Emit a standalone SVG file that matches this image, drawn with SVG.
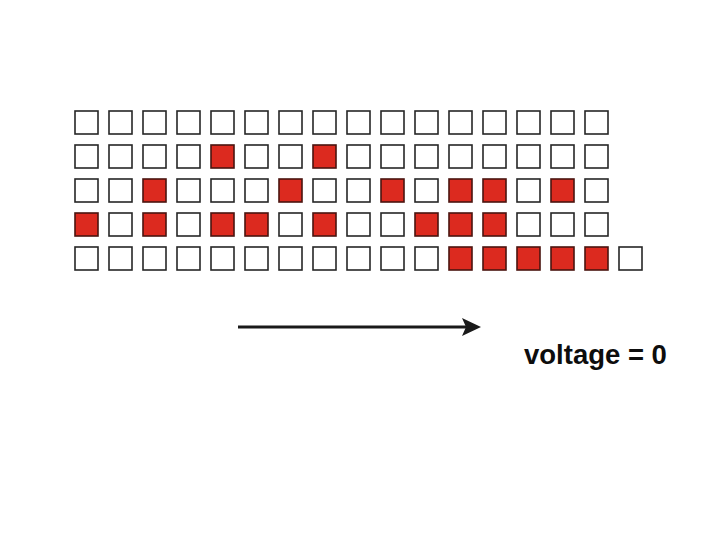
<svg xmlns="http://www.w3.org/2000/svg" width="720" height="540" viewBox="0 0 720 540">
<style>
.c{fill:#ffffff;stroke:#262626;stroke-width:1.6}
.r{fill:#dc2a1f;stroke:#4a1510;stroke-width:1.6}
.t{font-family:"Liberation Sans",Arial,sans-serif;font-weight:bold;font-size:27.5px;fill:#0d0d0d}
</style>
<defs>
<rect id="sq" width="23" height="23"/>
</defs>
<rect width="720" height="540" fill="#ffffff"/>
<g id="grid">
<g id="row0">
<use href="#sq" class="c" x="75" y="111"/><use href="#sq" class="c" x="109" y="111"/><use href="#sq" class="c" x="143" y="111"/><use href="#sq" class="c" x="177" y="111"/><use href="#sq" class="c" x="211" y="111"/><use href="#sq" class="c" x="245" y="111"/><use href="#sq" class="c" x="279" y="111"/><use href="#sq" class="c" x="313" y="111"/><use href="#sq" class="c" x="347" y="111"/><use href="#sq" class="c" x="381" y="111"/><use href="#sq" class="c" x="415" y="111"/><use href="#sq" class="c" x="449" y="111"/><use href="#sq" class="c" x="483" y="111"/><use href="#sq" class="c" x="517" y="111"/><use href="#sq" class="c" x="551" y="111"/><use href="#sq" class="c" x="585" y="111"/>
</g>
<g id="row1">
<use href="#sq" class="c" x="75" y="145"/><use href="#sq" class="c" x="109" y="145"/><use href="#sq" class="c" x="143" y="145"/><use href="#sq" class="c" x="177" y="145"/><use href="#sq" class="r" x="211" y="145"/><use href="#sq" class="c" x="245" y="145"/><use href="#sq" class="c" x="279" y="145"/><use href="#sq" class="r" x="313" y="145"/><use href="#sq" class="c" x="347" y="145"/><use href="#sq" class="c" x="381" y="145"/><use href="#sq" class="c" x="415" y="145"/><use href="#sq" class="c" x="449" y="145"/><use href="#sq" class="c" x="483" y="145"/><use href="#sq" class="c" x="517" y="145"/><use href="#sq" class="c" x="551" y="145"/><use href="#sq" class="c" x="585" y="145"/>
</g>
<g id="row2">
<use href="#sq" class="c" x="75" y="179"/><use href="#sq" class="c" x="109" y="179"/><use href="#sq" class="r" x="143" y="179"/><use href="#sq" class="c" x="177" y="179"/><use href="#sq" class="c" x="211" y="179"/><use href="#sq" class="c" x="245" y="179"/><use href="#sq" class="r" x="279" y="179"/><use href="#sq" class="c" x="313" y="179"/><use href="#sq" class="c" x="347" y="179"/><use href="#sq" class="r" x="381" y="179"/><use href="#sq" class="c" x="415" y="179"/><use href="#sq" class="r" x="449" y="179"/><use href="#sq" class="r" x="483" y="179"/><use href="#sq" class="c" x="517" y="179"/><use href="#sq" class="r" x="551" y="179"/><use href="#sq" class="c" x="585" y="179"/>
</g>
<g id="row3">
<use href="#sq" class="r" x="75" y="213"/><use href="#sq" class="c" x="109" y="213"/><use href="#sq" class="r" x="143" y="213"/><use href="#sq" class="c" x="177" y="213"/><use href="#sq" class="r" x="211" y="213"/><use href="#sq" class="r" x="245" y="213"/><use href="#sq" class="c" x="279" y="213"/><use href="#sq" class="r" x="313" y="213"/><use href="#sq" class="c" x="347" y="213"/><use href="#sq" class="c" x="381" y="213"/><use href="#sq" class="r" x="415" y="213"/><use href="#sq" class="r" x="449" y="213"/><use href="#sq" class="r" x="483" y="213"/><use href="#sq" class="c" x="517" y="213"/><use href="#sq" class="c" x="551" y="213"/><use href="#sq" class="c" x="585" y="213"/>
</g>
<g id="row4">
<use href="#sq" class="c" x="75" y="247"/><use href="#sq" class="c" x="109" y="247"/><use href="#sq" class="c" x="143" y="247"/><use href="#sq" class="c" x="177" y="247"/><use href="#sq" class="c" x="211" y="247"/><use href="#sq" class="c" x="245" y="247"/><use href="#sq" class="c" x="279" y="247"/><use href="#sq" class="c" x="313" y="247"/><use href="#sq" class="c" x="347" y="247"/><use href="#sq" class="c" x="381" y="247"/><use href="#sq" class="c" x="415" y="247"/><use href="#sq" class="r" x="449" y="247"/><use href="#sq" class="r" x="483" y="247"/><use href="#sq" class="r" x="517" y="247"/><use href="#sq" class="r" x="551" y="247"/><use href="#sq" class="r" x="585" y="247"/><use href="#sq" class="c" x="619" y="247"/>
</g>
</g>
<g id="connectors">
<line x1="238" y1="327" x2="466" y2="327" stroke="#1a1a1a" stroke-width="3"/>
<polygon points="481,327 462,318 466,327 462,336" fill="#1a1a1a"/>
</g>
<g id="label">
<text class="t" x="524" y="364">voltage = 0</text>
</g>
</svg>
